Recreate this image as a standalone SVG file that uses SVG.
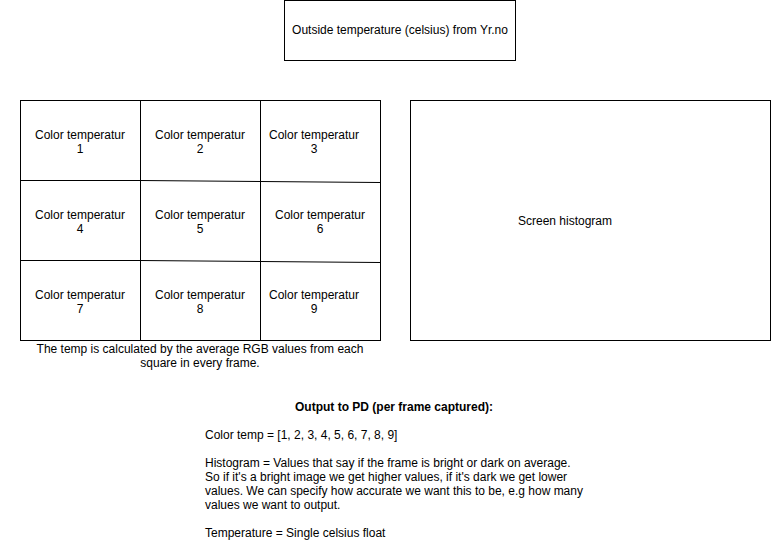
<svg xmlns="http://www.w3.org/2000/svg" width="771" height="553" viewBox="0 0 771 553">
<style>
.box{fill:#fff;stroke:#000;stroke-width:1}
.ln{stroke:#000;stroke-width:1;fill:none}
text{font-family:"Liberation Sans",Arial,sans-serif;font-size:12px;fill:#000}
.c{text-anchor:middle}
.b{font-weight:bold}
</style>
<rect width="771" height="553" fill="#fff"/>
<g id="outside-temp">
<rect class="box" x="284.5" y="0.5" width="231" height="60"/>
<text class="c" x="400" y="34">Outside temperature (celsius) from Yr.no</text>
</g>
<g id="grid">
<rect class="box" x="20.5" y="100.5" width="360" height="240"/>
</g>
<g id="connectors">
<line class="ln" x1="140.5" y1="100" x2="140.5" y2="340"/>
<line class="ln" x1="260.5" y1="100" x2="260.5" y2="340"/>
<line class="ln" x1="20" y1="180.5" x2="140" y2="180.5"/>
<line class="ln" x1="140" y1="180.5" x2="380" y2="182.5"/>
<line class="ln" x1="20" y1="260.5" x2="140" y2="260.5"/>
<line class="ln" x1="140" y1="260.5" x2="380" y2="262.5"/>
</g>
<g id="cell1"><text class="c" x="80" y="139">Color temperatur</text><text class="c" x="80" y="153">1</text></g>
<g id="cell2"><text class="c" x="200" y="139">Color temperatur</text><text class="c" x="200" y="153">2</text></g>
<g id="cell3"><text class="c" x="314" y="139">Color temperatur</text><text class="c" x="314" y="153">3</text></g>
<g id="cell4"><text class="c" x="80" y="219">Color temperatur</text><text class="c" x="80" y="233">4</text></g>
<g id="cell5"><text class="c" x="200" y="219">Color temperatur</text><text class="c" x="200" y="233">5</text></g>
<g id="cell6"><text class="c" x="320" y="219">Color temperatur</text><text class="c" x="320" y="233">6</text></g>
<g id="cell7"><text class="c" x="80" y="299">Color temperatur</text><text class="c" x="80" y="313">7</text></g>
<g id="cell8"><text class="c" x="200" y="299">Color temperatur</text><text class="c" x="200" y="313">8</text></g>
<g id="cell9"><text class="c" x="314" y="299">Color temperatur</text><text class="c" x="314" y="313">9</text></g>
<g id="caption">
<text class="c" x="200" y="353">The temp is calculated by the average RGB values from each</text>
<text class="c" x="200" y="367">square in every frame.</text>
</g>
<g id="histogram">
<rect class="box" x="410.5" y="100.5" width="360" height="240"/>
<text class="c" x="565" y="225">Screen histogram</text>
</g>
<g id="output">
<text class="c b" x="394" y="411">Output to PD (per frame captured):</text>
<text x="205" y="439">Color temp = [1, 2, 3, 4, 5, 6, 7, 8, 9]</text>
<text x="205" y="467">Histogram = Values that say if the frame is bright or dark on average.</text>
<text x="205" y="481">So if it's a bright image we get higher values, if it's dark we get lower</text>
<text x="205" y="495">values. We can specify how accurate we want this to be, e.g how many</text>
<text x="205" y="509">values we want to output.</text>
<text x="205" y="537">Temperature = Single celsius float</text>
</g>
</svg>
